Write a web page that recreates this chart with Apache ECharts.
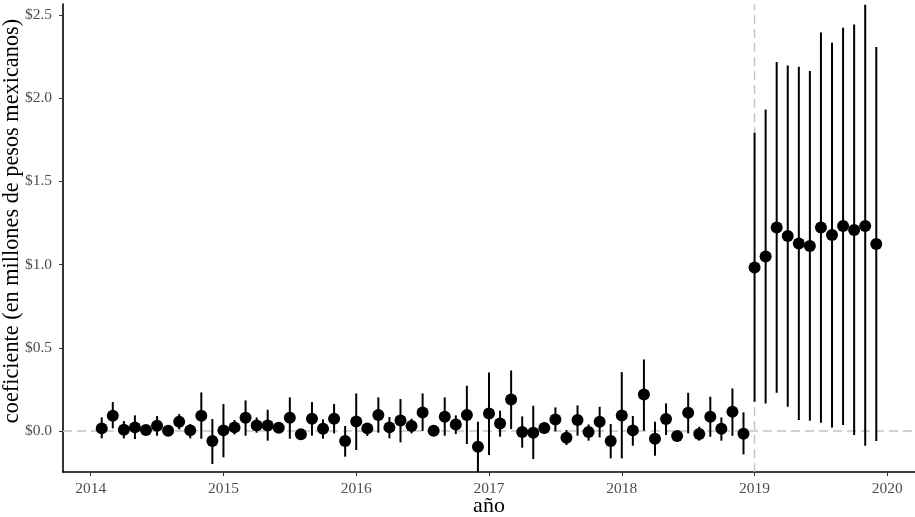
<!DOCTYPE html>
<html>
<head>
<meta charset="utf-8">
<script src="https://cdn.jsdelivr.net/npm/echarts@6/dist/echarts.min.js"></script>
<style>html,body{margin:0;padding:0;background:#fff}#c{width:915px;height:517px}</style>
</head>
<body>
<div id="c"></div>
<script>
// Monthly periods: Feb 2014 .. Dec 2019
var startYear = 2014, startMonth = 2, endYear = 2019, endMonth = 12;
var coef = [0.016,0.092,0.008,0.022,0.006,0.032,0.002,0.056,0.004,0.092,-0.06,
  0.004,0.022,0.08,0.034,0.034,0.02,0.08,-0.02,0.074,0.014,0.074,-0.06,
  0.058,0.016,0.096,0.022,0.064,0.03,0.112,0.002,0.086,0.04,0.096,-0.094,
  0.106,0.046,0.19,-0.006,-0.01,0.018,0.07,-0.04,0.066,-0.006,0.056,-0.06,
  0.094,0.004,0.22,-0.046,0.072,-0.03,0.11,-0.018,0.086,0.014,0.116,-0.016,
  0.983,1.049,1.223,1.171,1.127,1.111,1.223,1.177,1.231,1.207,1.231,1.123];
var upper = [0.082,0.174,0.06,0.094,0.03,0.09,0.02,0.102,0.042,0.232,0.072,
  0.162,0.066,0.184,0.082,0.128,0.04,0.202,0.005,0.174,0.07,0.162,0.03,
  0.226,0.045,0.202,0.084,0.192,0.074,0.226,0.02,0.202,0.094,0.272,0.056,
  0.352,0.122,0.364,0.088,0.152,0.05,0.142,0.006,0.154,0.04,0.146,0.042,
  0.354,0.09,0.43,0.056,0.166,0.0,0.23,0.026,0.206,0.082,0.256,0.112,
  1.792,1.932,2.216,2.196,2.188,2.162,2.394,2.332,2.422,2.442,2.56,2.306];
var lower = [-0.044,0.016,-0.044,-0.048,-0.015,-0.028,-0.02,0.01,-0.044,-0.046,-0.198,
  -0.158,-0.02,-0.028,-0.01,-0.058,0.0,-0.046,-0.05,-0.028,-0.046,-0.014,-0.154,
  -0.114,-0.03,-0.01,-0.044,-0.068,-0.014,0.0,-0.02,-0.028,-0.018,-0.078,-0.26,
  -0.144,-0.034,0.012,-0.1,-0.168,-0.016,-0.002,-0.084,-0.028,-0.058,-0.038,-0.164,
  -0.164,-0.088,0.002,-0.148,-0.024,-0.064,-0.014,-0.058,-0.034,-0.058,-0.028,-0.14,
  0.176,0.166,0.23,0.146,0.066,0.062,0.05,0.022,0.036,-0.024,-0.088,-0.06];
var xTicks = [2014,2015,2016,2017,2018,2019,2020];
var yTicks = [0,0.5,1,1.5,2,2.5];
var refX = 2019, refY = 0;
var xMin = 2013.7917, xMax = 2020.2083, yMin = -0.246, yMax = 2.565;
var xTitle = 'año';
var yTitle = 'coeficiente (en millones de pesos mexicanos)';

// decimal-year position of each monthly period
var periods = [];
for (var y = startYear, m = startMonth; y < endYear || (y === endYear && m <= endMonth); ) {
  periods.push(y + (m - 1) / 12);
  m++; if (m > 12) { m = 1; y++; }
}
var pts = periods.map(function (t, i) { return [t, coef[i]]; });
var bars = periods.map(function (t, i) { return [t, lower[i], upper[i]]; });

var font = 'Liberation Serif';
var refStyle = {color: '#c4c4c4', type: [9, 5], width: 1.4};
var chart = echarts.init(document.getElementById('c'), null, {renderer: 'canvas'});
chart.setOption({
  animation: false,
  grid: {left: 63, right: 0, top: 4, bottom: 45, containLabel: false, outerBoundsMode: 'none'},
  graphic: [{
    type: 'text', x: 12, y: 221, rotation: Math.PI / 2, silent: true,
    style: {text: yTitle, fontFamily: font, fontSize: 22.3, fill: '#000',
      align: 'center', verticalAlign: 'middle'}
  }, {
    type: 'text', x: 489, y: 506, silent: true,
    style: {text: xTitle, fontFamily: font, fontSize: 22, fill: '#000',
      align: 'center', verticalAlign: 'middle'}
  }],
  xAxis: {
    type: 'value', min: xMin, max: xMax,
    axisLine: {show: true, onZero: false, lineStyle: {color: '#000', width: 1.6}},
    axisTick: {show: true, customValues: xTicks, length: 4, lineStyle: {color: '#333', width: 1}},
    axisLabel: {customValues: xTicks, color: '#4d4d4d', fontFamily: font, fontSize: 15.5, margin: 9,
      formatter: function (v) { return String(v); }},
    splitLine: {show: false}
  },
  yAxis: {
    type: 'value', min: yMin, max: yMax,
    axisLine: {show: true, onZero: false, lineStyle: {color: '#000', width: 1.6}},
    axisTick: {show: true, customValues: yTicks, length: 4, lineStyle: {color: '#333', width: 1}},
    axisLabel: {customValues: yTicks, color: '#4d4d4d', fontFamily: font, fontSize: 15.5, margin: 11,
      formatter: function (v) { return '$' + v.toFixed(1); }},
    splitLine: {show: false}
  },
  series: [
    {
      type: 'line', z: 1, silent: true, showSymbol: false, symbol: 'none',
      data: [[xMin, refY], [xMax, refY]], lineStyle: refStyle
    },
    {
      type: 'line', z: 1, silent: true, showSymbol: false, symbol: 'none',
      data: [[refX, yMin], [refX, yMax]], lineStyle: refStyle
    },
    {
      type: 'custom', z: 2, clip: true, data: bars,
      encode: {x: 0, y: [1, 2]},
      renderItem: function (params, api) {
        var a = api.coord([api.value(0), api.value(1)]);
        var b = api.coord([api.value(0), api.value(2)]);
        return {type: 'line', shape: {x1: a[0], y1: a[1], x2: b[0], y2: b[1]},
          style: {stroke: '#000', lineWidth: 2}};
      }
    },
    {
      type: 'scatter', z: 3, data: pts, symbol: 'circle', symbolSize: 12,
      itemStyle: {color: '#000', opacity: 1}
    }
  ]
});
</script>
</body>
</html>
